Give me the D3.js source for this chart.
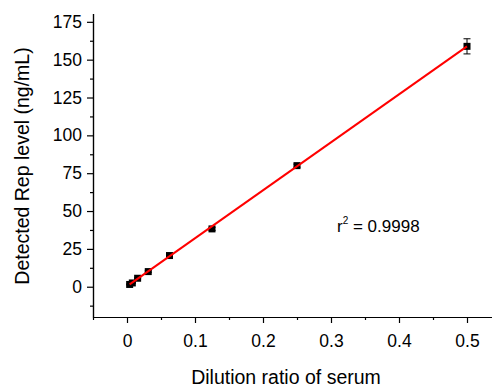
<!DOCTYPE html>
<html>
<head>
<meta charset="utf-8">
<script src="https://cdn.jsdelivr.net/npm/d3@7"></script>
<style>
body { margin: 0; background: #fff; }
text { font-family: "Liberation Sans", Arial, sans-serif; fill: #000; }
</style>
</head>
<body>
<svg id="chart" width="492" height="387"></svg>
<script>
// dilution ratio vs detected Rep level
const dilution = [0.5, 0.25, 0.125, 0.0625, 0.03125, 0.015625, 0.0078125, 0.00390625];
const repLevel = [158.8, 80.0, 38.2, 20.6, 10.0, 5.6, 2.5, 1.5];
const repError = [5.0, 1.0, 1.0, 0.8, 0.5, 0.4, 0.3, 0.3];
const fitSlope = 317.0;
const fitIntercept = 0.3;
const fitRange = [0.0039, 0.5];
const xTicks = [0, 0.1, 0.2, 0.3, 0.4, 0.5];
const yTicks = [0, 25, 50, 75, 100, 125, 150, 175];

const svg = d3.select("#chart");
const x = d3.scaleLinear().domain([-0.05, 0.55]).range([93, 501]);
const y = d3.scaleLinear().domain([-20, 180.5]).range([317, 13.5]);

// axes
const xAxis = d3.axisBottom(x).tickValues(xTicks).tickFormat(d3.format("")).tickSize(6).tickSizeOuter(0).tickPadding(12);
const xMinor = d3.axisBottom(x).tickValues(d3.range(-0.05, 0.56, 0.1)).tickFormat("").tickSize(3).tickSizeOuter(0);
const yAxis = d3.axisLeft(y).tickValues(yTicks).tickSize(6).tickSizeOuter(0).tickPadding(5);
const yMinor = d3.axisLeft(y).tickValues(d3.range(-12.5, 180, 25)).tickFormat("").tickSize(3).tickSizeOuter(0);

const gx = svg.append("g").attr("transform", "translate(0,317)");
gx.call(xAxis);
gx.append("g").call(xMinor);
const gy = svg.append("g").attr("transform", "translate(93,0)");
gy.call(yAxis);
gy.append("g").call(yMinor);
svg.selectAll(".domain").attr("stroke", "#000").attr("stroke-width", 1.2);
svg.selectAll(".tick line").attr("stroke", "#000").attr("stroke-width", 1.2);
svg.selectAll(".tick text").style("font-size", "17.5px").style("font-family", "Liberation Sans, Arial, sans-serif");

// axis titles
svg.append("text").attr("x", 286).attr("y", 384).attr("text-anchor", "middle")
  .style("font-size", "19.5px").text("Dilution ratio of serum");
svg.append("text").attr("transform", "translate(28.5,166) rotate(-90)").attr("text-anchor", "middle")
  .style("font-size", "19.5px").text("Detected Rep level (ng/mL)");

// error bars
const pts = dilution.map((d, i) => ({x: d, y: repLevel[i], e: repError[i]}));
const eb = svg.append("g").attr("stroke", "#000").attr("stroke-width", 1);
pts.forEach(p => {
  eb.append("line").attr("x1", x(p.x)).attr("x2", x(p.x)).attr("y1", y(p.y - p.e)).attr("y2", y(p.y + p.e));
  eb.append("line").attr("x1", x(p.x) - 3.5).attr("x2", x(p.x) + 3.5).attr("y1", y(p.y - p.e)).attr("y2", y(p.y - p.e));
  eb.append("line").attr("x1", x(p.x) - 3.5).attr("x2", x(p.x) + 3.5).attr("y1", y(p.y + p.e)).attr("y2", y(p.y + p.e));
});

// markers
svg.append("g").selectAll("rect").data(pts).enter().append("rect")
  .attr("x", d => x(d.x) - 3.5).attr("y", d => y(d.y) - 3.5)
  .attr("width", 7).attr("height", 7).attr("fill", "#000");

// linear fit
svg.append("line")
  .attr("x1", x(fitRange[0])).attr("y1", y(fitSlope * fitRange[0] + fitIntercept))
  .attr("x2", x(fitRange[1])).attr("y2", y(fitSlope * fitRange[1] + fitIntercept))
  .attr("stroke", "#ff0000").attr("stroke-width", 2);

// r squared label
const r2 = svg.append("text").attr("x", 337).attr("y", 231.5).style("font-size", "17px");
r2.append("tspan").text("r");
r2.append("tspan").attr("dy", -8).style("font-size", "10px").text("2");
r2.append("tspan").attr("dy", 8).text(" = 0.9998");
</script>
</body>
</html>
